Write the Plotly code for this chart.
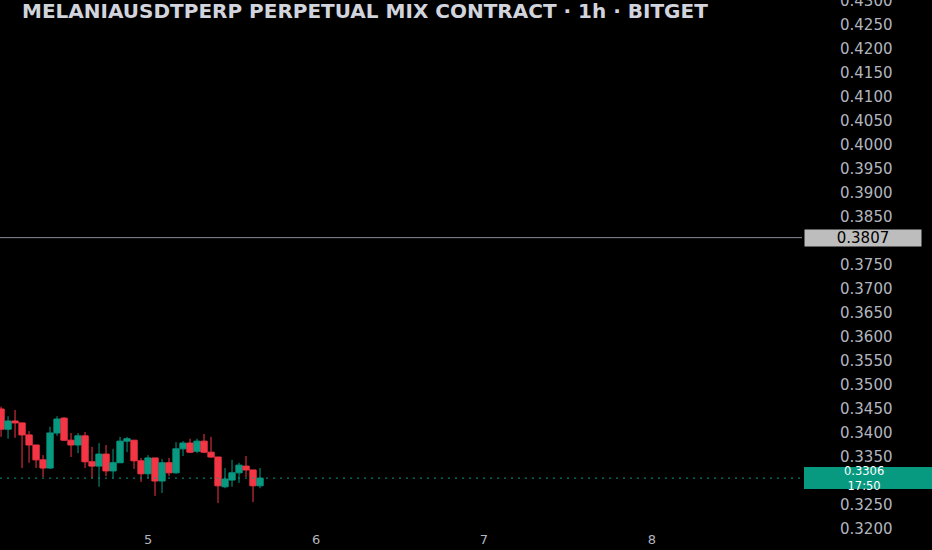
import plotly.graph_objects as go
import pandas as pd

# ---- data ----
times = pd.date_range("2025-06-04 03:00", periods=38, freq="h")
open_ = [0.3450, 0.3408, 0.3425, 0.3421, 0.3396, 0.3375, 0.3344, 0.3327, 0.3400, 0.3431,
         0.3385, 0.3375, 0.3394, 0.3340, 0.3331, 0.3356, 0.3321, 0.3338, 0.3383, 0.3385,
         0.3342, 0.3315, 0.3348, 0.3300, 0.3338, 0.3317, 0.3367, 0.3379, 0.3362, 0.3383,
         0.3360, 0.3350, 0.3288, 0.3302, 0.3317, 0.3331, 0.3323, 0.3290]
high = [0.3455, 0.3435, 0.3448, 0.3421, 0.3404, 0.3375, 0.3354, 0.3413, 0.3435, 0.3433,
        0.3400, 0.3400, 0.3402, 0.3371, 0.3379, 0.3375, 0.3367, 0.3392, 0.3392, 0.3385,
        0.3348, 0.3354, 0.3348, 0.3346, 0.3348, 0.3381, 0.3383, 0.3388, 0.3388, 0.3398,
        0.3392, 0.3350, 0.3327, 0.3344, 0.3338, 0.3352, 0.3323, 0.3327]
low = [0.3392, 0.3388, 0.3390, 0.3327, 0.3338, 0.3327, 0.3308, 0.3325, 0.3394, 0.3383,
       0.3350, 0.3358, 0.3327, 0.3306, 0.3288, 0.3310, 0.3306, 0.3338, 0.3360, 0.3325,
       0.3298, 0.3306, 0.3269, 0.3275, 0.3310, 0.3315, 0.3352, 0.3358, 0.3358, 0.3358,
       0.3348, 0.3254, 0.3285, 0.3288, 0.3296, 0.3308, 0.3256, 0.3285]
close = [0.3408, 0.3425, 0.3421, 0.3396, 0.3375, 0.3344, 0.3327, 0.3400, 0.3429, 0.3385,
         0.3375, 0.3394, 0.3340, 0.3331, 0.3356, 0.3321, 0.3338, 0.3383, 0.3388, 0.3342,
         0.3315, 0.3348, 0.3300, 0.3338, 0.3317, 0.3367, 0.3379, 0.3360, 0.3383, 0.3360,
         0.3350, 0.3290, 0.3304, 0.3317, 0.3333, 0.3323, 0.3290, 0.3306]

level_price = 0.3807
last_price = close[-1]
countdown = "17:50"
title_text = "MELANIAUSDTPERP PERPETUAL MIX CONTRACT · 1h · BITGET"

y_ticks = [0.3200, 0.3250, 0.3350, 0.3400, 0.3450, 0.3500, 0.3550, 0.3600, 0.3650,
           0.3700, 0.3750, 0.3850, 0.3900, 0.3950, 0.4000, 0.4050, 0.4100, 0.4150,
           0.4200, 0.4250, 0.4300]
x_ticks = ["2025-06-05", "2025-06-06", "2025-06-07", "2025-06-08"]
x_tick_text = ["5", "6", "7", "8"]

GREEN = "#089981"
RED = "#f23645"
TXT = "#b2b5be"
FONT = "DejaVu Sans"

fig = go.Figure()
fig.add_trace(go.Candlestick(
    x=times, open=open_, high=high, low=low, close=close,
    increasing=dict(line=dict(color=GREEN, width=1), fillcolor=GREEN),
    decreasing=dict(line=dict(color=RED, width=1), fillcolor=RED),
    whiskerwidth=0, hoverinfo="skip", showlegend=False,
))

# level line
fig.add_shape(type="line", xref="paper", x0=0, x1=1, yref="y", y0=level_price, y1=level_price,
              line=dict(color="#8a8d96", width=1))
# last price dotted line
fig.add_shape(type="line", xref="paper", x0=0, x1=1, yref="y", y0=last_price, y1=last_price,
              line=dict(color=GREEN, width=1, dash="2px,5px"))

# level label box
fig.add_annotation(xref="paper", x=1, xanchor="left", xshift=2, yref="y", y=level_price,
                   text=f"{level_price:.4f}", showarrow=False, bgcolor="#bdbdbd",
                   width=116, height=16, borderpad=0,
                   font=dict(family=FONT, size=15, color="#000000"))

# last price box
fig.add_shape(type="rect", xref="paper", x0=1 + 2 / 802, x1=1 + 140 / 802,
              yref="y", ysizemode="pixel", yanchor=last_price, y0=-11, y1=11,
              fillcolor=GREEN, line=dict(width=0), layer="above")
fig.add_annotation(xref="paper", x=864 / 802, xanchor="center", yref="y", y=last_price,
                   text=f"{last_price:.4f}<br>{countdown}", showarrow=False,
                   font=dict(family=FONT, size=11.5, color="#ffffff"))

# title
fig.add_annotation(xref="paper", x=20 / 802, xanchor="left", yref="paper", y=1 - 11 / 530,
                   yanchor="middle", text=title_text, showarrow=False,
                   font=dict(family=FONT, size=20, color="#d1d4dc", weight="bold"))

fig.update_layout(
    width=932, height=550,
    margin=dict(l=0, r=130, t=0, b=20, autoexpand=False),
    paper_bgcolor="#000000", plot_bgcolor="#000000",
    boxgap=0.1, boxgroupgap=0,
    showlegend=False,
    xaxis=dict(
        type="date", range=["2025-06-04 02:51", "2025-06-08 21:26"],
        rangeslider=dict(visible=False), automargin=False,
        tickvals=x_ticks, ticktext=x_tick_text,
        showgrid=False, zeroline=False, showline=False, ticks="",
        tickfont=dict(family=FONT, size=13, color=TXT),
    ),
    yaxis=dict(
        side="right", range=[0.31979, 0.43021], automargin=False,
        tickvals=y_ticks, ticktext=[f"{v:.4f}" for v in y_ticks],
        showgrid=False, zeroline=False, showline=False, ticks="",
        ticklabelstandoff=37, ticklabeloverflow="allow",
        tickfont=dict(family=FONT, size=15, color=TXT),
    ),
)

fig.write_html(
    "out.html",
    config={"displayModeBar": False},
    post_script="document.body.style.margin='0';document.body.style.background='#000';",
)
